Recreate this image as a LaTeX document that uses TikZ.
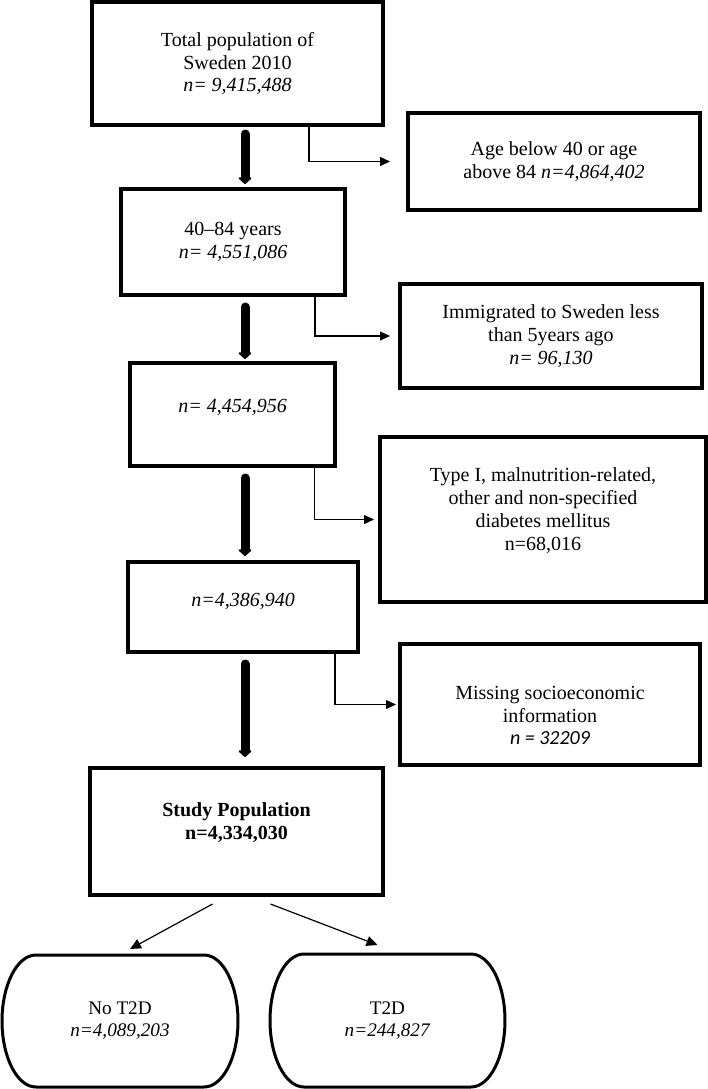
\documentclass[tikz,border=0pt]{standalone}
\usepackage{fontspec}
\setmainfont{Liberation Serif}
\newfontfamily\calibri{Carlito}
\usepackage{tikz}
\usetikzlibrary{positioning, arrows}
\usetikzlibrary{arrows.meta, calc}

% outline with bulging sides for the two outcome groups
\newcommand{\capsule}[1]{%
    \draw[line width=1.5pt] ([xshift=17pt]#1.north west) -- ([xshift=-17pt]#1.north east)
        .. controls ([xshift=-7.5pt]#1.north east) and ([yshift=18pt]#1.east) .. (#1.east)
        .. controls ([yshift=-18pt]#1.east) and ([xshift=-7.5pt]#1.south east) .. ([xshift=-17pt]#1.south east)
        -- ([xshift=17pt]#1.south west)
        .. controls ([xshift=7.5pt]#1.south west) and ([yshift=-18pt]#1.west) .. (#1.west)
        .. controls ([yshift=18pt]#1.west) and ([xshift=7.5pt]#1.north west) .. cycle;}
% text block set off centre inside its box
\newcommand{\shifted}[2]{\raisebox{#1}[\height][\depth]{\begin{tabular}{@{}c@{}}#2\end{tabular}}}

\begin{document}
\begin{tikzpicture}[x=0.5pt, y=-0.5pt,
    box/.style={draw, line width=2pt, align=center, inner sep=0pt,
        font=\fontsize{10}{11.4}\selectfont},
    group/.style={align=center, inner sep=0pt, outer sep=0pt,
        font=\fontsize{9.6}{11}\selectfont},
    bigarrow/.style={line width=4.5pt, line cap=round, -{Triangle[length=3.5pt, width=7.5pt, round]}},
    elbow/.style={line width=0.6pt, -{Triangle[length=5pt, width=4.5pt]}},
    split/.style={line width=0.6pt, -{Triangle[length=5.5pt, width=5pt]}}]

    \useasboundingbox (0,0) rectangle (708,1089);

    % Define nodes
    \node[box, minimum width=145.5pt, minimum height=61.5pt] (total) at (237.5,63.5)
        {Total population of\\ Sweden 2010\\ \textit{n= 9,415,488}};
    \node[box, minimum width=146pt, minimum height=48.5pt] (age) at (554,161.5)
        {Age below 40 or age\\ above 84 \textit{n=4,864,402}};
    \node[box, minimum width=112pt, minimum height=53pt] (range) at (233,242)
        {40–84 years\\ \textit{n= 4,551,086}};
    \node[box, minimum width=151pt, minimum height=52pt] (immig) at (551,336)
        {Immigrated to Sweden less\\ than 5years ago\\ \textit{n= 96,130}};
    \node[box, minimum width=102.5pt, minimum height=51.5pt] (afterimm) at (232.5,414.5)
        {\shifted{3.5pt}{\textit{n= 4,454,956}}};
    \node[box, minimum width=163pt, minimum height=82.5pt] (diab) at (543,519.5)
        {\shifted{4pt}{Type I, malnutrition-related,\\ other and non-specified\\ diabetes mellitus\\ n=68,016}};
    \node[box, minimum width=115pt, minimum height=45pt] (afterdiab) at (243,607)
        {\shifted{2.5pt}{\textit{n=4,386,940}}};
    \node[box, minimum width=150pt, minimum height=60.5pt] (socio) at (550,704.5)
        {\shifted{-6.5pt}{Missing socioeconomic\\ information\\ {\calibri\itshape n = 32209}}};
    \node[box, minimum width=146.5pt, minimum height=63.5pt] (study) at (236.5,831.5)
        {\shifted{4pt}{\textbf{Study Population}\\ \textbf{n=4,334,030}}};
    \node[group, minimum width=118pt, minimum height=66pt] (notd) at (120,1021)
        {No T2D\\ \textit{n=4,089,203}};
    \node[group, minimum width=117.5pt, minimum height=66.5pt] (td) at (387.5,1020.5)
        {T2D\\ \textit{n=244,827}};
    \capsule{notd}
    \capsule{td}

    % Main flow
    \coordinate (col) at (245,0);
    \draw[bigarrow] ($(total.south -| col)+(0,7)$) -- ($(range.north -| col)+(0,-3)$);
    \draw[bigarrow] ($(range.south -| col)+(0,10)$) -- ($(afterimm.north -| col)+(0,-2)$);
    \draw[bigarrow] ($(afterimm.south -| col)+(0,10)$) -- ($(afterdiab.north -| col)+(0,-4)$);
    \draw[bigarrow] ($(afterdiab.south -| col)+(0,10)$) -- ($(study.north -| col)+(0,-9)$);

    % Exclusions
    \draw[elbow, shorten >=8pt] ([xshift=35.75pt]total.south) |- (age.west);
    \draw[elbow, shorten >=4pt] ([xshift=41pt]range.south) |- (immig.west);
    \draw[elbow, shorten >=2pt] ([xshift=41pt]afterimm.south) |- (diab.west);
    \draw[elbow, shorten >=1pt] ([xshift=46pt]afterdiab.south) |- (socio.west);

    % Outcome groups
    \draw[split] ([shift={(-12pt,-3.5pt)}]study.south) -- ([shift={(5pt,3pt)}]notd.north);
    \draw[split] ([shift={(17pt,-3.5pt)}]study.south) -- ([shift={(-5pt,4.5pt)}]td.north);

\end{tikzpicture}
\end{document}
